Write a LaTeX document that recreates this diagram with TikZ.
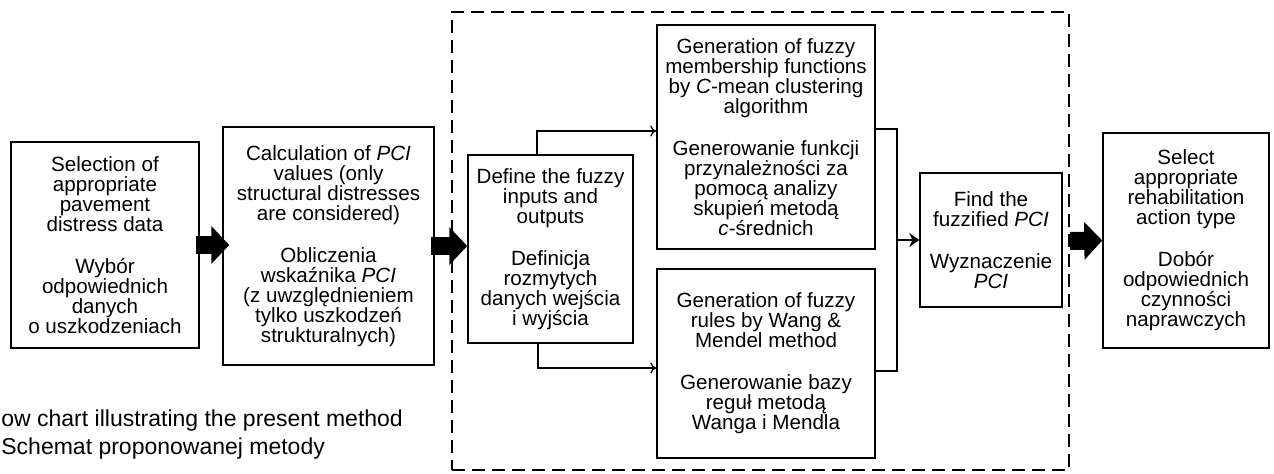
\documentclass[tikz,border=0pt]{standalone}
\usepackage{fontspec}
\setmainfont{Liberation Sans}
\usetikzlibrary{arrows.meta}

\begin{document}
\begin{tikzpicture}[x=0.5pt,y=-0.5pt,
		box/.style={draw,line width=0.75pt,align=center,inner sep=0pt,font=\fontsize{10.3}{10}\selectfont},
		frame/.style={draw,line width=1pt,dash pattern=on 6.5pt off 3.5pt,inner sep=0pt},
		link/.style={line width=0.6pt},
		thin arrow/.style={link,-{To[length=3pt,width=5.5pt]}},
		join arrow/.style={line width=1.3pt,-{Stealth[length=5pt,width=7pt]}},
		big arrow/.style={line width=9pt,-{Triangle[length=9pt,width=18.5pt]}},
		caption/.style={inner sep=0pt,font=\fontsize{11.5}{14}\selectfont}]
	\useasboundingbox (0,0) rectangle (1274,473);
	\fill[color=white] (0,0) rectangle (1274,473);
	\node[frame,minimum width=308.5pt,minimum height=229pt] (frame) at (760.5,241) {};
	\node[box,minimum width=94pt,minimum height=103pt] (sel) at (105,245) {Selection of\\appropriate\\pavement\\distress data\\[11pt]Wybór\\odpowiednich\\danych\\o uszkodzeniach};
	\node[box,minimum width=105.5pt,minimum height=119pt] (pci) at (328.5,246) {Calculation of \textit{PCI}\\values (only\\structural distresses\\are considered)\\[11pt]Obliczenia\\wskaźnika \textit{PCI}\\(z uwzględnieniem\\tylko uszkodzeń\\strukturalnych)};
	\node[box,minimum width=82.5pt,minimum height=94pt] (fuz) at (550.5,249) {Define the fuzzy\\inputs and\\outputs\\[11pt]Definicja\\rozmytych\\danych wejścia\\i wyjścia};
	\node[box,minimum width=109pt,minimum height=112pt] (memb) at (766,137) {Generation of fuzzy\\membership functions\\by \textit{C}-mean clustering\\algorithm\\[11pt]Generowanie funkcji\\przynależności za\\pomocą analizy\\skupień metodą\\\textit{c}-średnich};
	\node[box,minimum width=109pt,minimum height=94.5pt] (rules) at (766,363.5) {Generation of fuzzy\\rules by Wang \&\\Mendel method\\[11pt]Generowanie bazy\\reguł metodą\\Wanga i Mendla};
	\node[box,minimum width=71pt,minimum height=67pt] (find) at (991,240) {Find the\\fuzzified \textit{PCI}\\[11pt]Wyznaczenie\\\textit{PCI}};
	\node[box,minimum width=83pt,minimum height=107.5pt] (act) at (1186,240.5) {Select\\appropriate\\rehabilitation\\action type\\[11pt]Dobór\\odpowiednich\\czynności\\naprawczych};
	\coordinate (join) at (897,240);
	\draw[big arrow,shorten <=-2pt,shorten >=-3.5pt] (sel.east) -- (sel.east -| pci.west);
	\draw[big arrow,shorten <=-2pt] (pci.east) -- (pci.east -| fuz.west);
	\draw[big arrow] (frame.east) -- (act.west);
	\draw[thin arrow] ([xshift=-6.75pt]fuz.north) |- ([yshift=3pt]memb.west);
	\draw[thin arrow] ([xshift=-6.25pt]fuz.south) |- ([yshift=-2.25pt]rules.west);
	\draw[link] ([yshift=4pt]memb.east) -| (join) |- ([yshift=-3.75pt]rules.east);
	\draw[join arrow] (join) -- (find.west);
	\node[caption,anchor=base west] (capen) at (1,426) {ow chart illustrating the present method};
	\node[caption,anchor=base west] (cappl) at (1,454) {Schemat proponowanej metody};
\end{tikzpicture}
\end{document}
